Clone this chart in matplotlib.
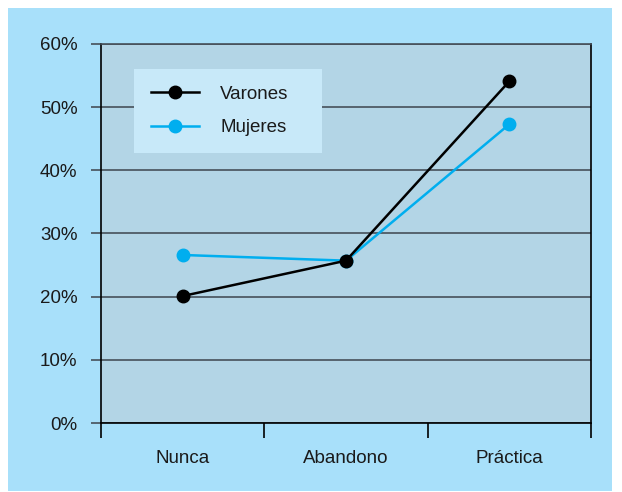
import matplotlib.pyplot as plt
from matplotlib.patches import Rectangle

categorias = ['Nunca', 'Abandono', 'Práctica']
varones = [20.1, 25.7, 54.1]
mujeres = [26.6, 25.7, 47.3]
yticks = [0, 10, 20, 30, 40, 50, 60]

plt.rcParams['font.family'] = ['Liberation Sans', 'DejaVu Sans']
plt.rcParams['text.color'] = '#1a1a1a'

fig = plt.figure(figsize=(6.22, 4.92), dpi=100)
fig.patch.set_facecolor('white')
fondo = Rectangle((8/622, 1-491/492), 604/622, 483/492,
                  transform=fig.transFigure, facecolor='#a8e0fa',
                  edgecolor='none', zorder=-10)
fig.add_artist(fondo)

ax = fig.add_axes([101/622, 1-423/492, 490/622, 379/492])
ax.set_facecolor('#b3d5e6')

x = range(len(categorias))
ax.plot(x, varones, color='black', lw=1.8, marker='o', ms=9, label='Varones', zorder=4)
ax.plot(x, mujeres, color='#00aeef', lw=1.8, marker='o', ms=9, label='Mujeres', zorder=3)

ax.set_xlim(-0.5, 2.5)
ax.set_ylim(0, 60)
ax.set_yticks(yticks)
ax.set_yticklabels([f'{v}%' for v in yticks], fontsize=13.5, color='#1a1a1a')
ax.yaxis.grid(True, color='#46505a', lw=1.2)
ax.set_axisbelow(True)
ax.tick_params(axis='y', length=7, color='#46505a', width=1.2, pad=10)

ax.set_xticks([-0.5, 0.5, 1.5, 2.5])
ax.set_xticklabels([])
ax.set_xticks(list(x), minor=True)
ax.set_xticklabels(categorias, minor=True, fontsize=13.5, color='#1a1a1a')
ax.tick_params(axis='x', which='major', length=11, width=1.2, color='black', direction='out')
ax.tick_params(axis='x', which='minor', length=0, pad=19.5)

for s in ['left', 'right', 'bottom']:
    ax.spines[s].set_color('black')
    ax.spines[s].set_linewidth(1.2)
ax.spines['top'].set_color('#46505a')
ax.spines['top'].set_linewidth(1.2)

leg = ax.legend(loc='upper left', bbox_to_anchor=(0.067, 0.712, 0.384, 0.222),
                mode='expand', borderaxespad=0,
                fancybox=False, framealpha=1, facecolor='#c8e9f9', edgecolor='none',
                fontsize=13.5, handlelength=2.6, borderpad=0.9, labelspacing=0.85,
                handletextpad=1.1)
leg.get_frame().set_linewidth(0)

fig.savefig('out.png', dpi=100)
